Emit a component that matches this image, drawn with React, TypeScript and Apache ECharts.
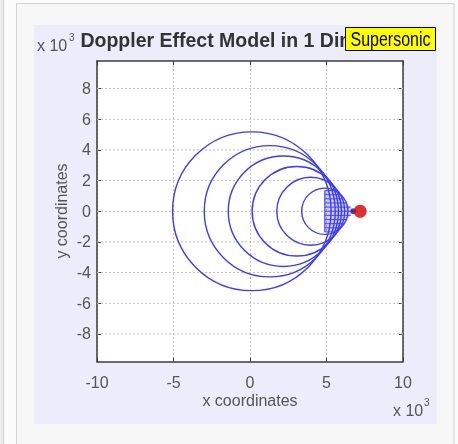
import React, { useEffect, useRef } from 'react';
import * as echarts from 'echarts';

// ---- data (x10^3 units) ----
const xTicks = [-10, -5, 0, 5, 10];
const yTicks = [-8, -6, -4, -2, 0, 2, 4, 6, 8];
const xRange = [-10, 10];
const yRange = [-9.8, 9.8];

// wavefront circles: centre x, centre y, radius
const waveX = [0.12, 1.29, 2.18, 3.06, 3.97, 4.89];
const waveY = [0, 0, 0, 0, 0, 0];
const waveR = [5.18, 4.28, 3.6, 2.92, 2.22, 1.51];

// dense hatch of wavefronts near the source
const hatchY = [1.35, 1.08, 0.81, 0.54, 0.27, 0, -0.27, -0.54, -0.81, -1.08, -1.35];
const hatchXEnd = [5.57, 5.95, 6.13, 6.35, 6.58, 6.8, 6.58, 6.35, 6.13, 5.95, 5.57];
const hatchXStart = 4.89;

const sourcePos = [7.2, 0];
const frontPos = [6.75, 0];

const FONT = 'Liberation Sans, Arial, sans-serif';
const GRAY = '#555';
const AXIS = '#3c3c3c';
const GRID = '#bdbdbd';

export default function App() {
  const ref = useRef<HTMLDivElement>(null);
  useEffect(() => {
    const chart = echarts.init(ref.current!, null, { renderer: 'svg', width: 458, height: 444 });

    const circleData = waveX.map((x, i) => [x, waveY[i], waveR[i]]);
    const hatchData = hatchY.map((y, i) => [hatchXStart, y, hatchXEnd[i]]);
    const yGridData = yTicks.map((v) => [xRange[0], v]);

    const option: any = {
      animation: false,
      grid: {
        left: 97,
        top: 61,
        width: 306,
        height: 300.5,
        show: true,
        backgroundColor: '#ffffff',
        borderWidth: 0,
      },
      xAxis: [
        {
          type: 'value',
          position: 'bottom',
          min: xRange[0],
          max: xRange[1],
          interval: 5,
          axisLine: { show: true, onZero: false, lineStyle: { color: AXIS, width: 1.5 } },
          axisTick: { show: true, inside: true, length: 4, lineStyle: { color: AXIS } },
          axisLabel: {
            show: true,
            margin: 13,
            fontSize: 16,
            color: GRAY,
            fontFamily: FONT,
            formatter: (v: number) => (xTicks.includes(v) ? String(v) : ''),
          },
          splitLine: { show: true, lineStyle: { color: GRID, type: [2, 2], width: 1 } },
        },
        {
          type: 'value',
          position: 'top',
          min: xRange[0],
          max: xRange[1],
          interval: 5,
          axisLine: { show: true, onZero: false, lineStyle: { color: AXIS, width: 1.5 } },
          axisTick: { show: true, inside: true, length: 4, lineStyle: { color: AXIS } },
          axisLabel: { show: false },
          splitLine: { show: false },
        },
      ],
      yAxis: [
        {
          type: 'value',
          position: 'left',
          min: yRange[0],
          max: yRange[1],
          axisLine: { show: true, onZero: false, lineStyle: { color: AXIS, width: 1.5 } },
          axisTick: { show: true, inside: true, length: 4, customValues: yTicks, lineStyle: { color: AXIS } },
          axisLabel: { show: true, margin: 6, fontSize: 16, color: GRAY, fontFamily: FONT, customValues: yTicks },
          splitLine: { show: false },
        },
        {
          type: 'value',
          position: 'right',
          min: yRange[0],
          max: yRange[1],
          axisLine: { show: true, onZero: false, lineStyle: { color: AXIS, width: 1.5 } },
          axisTick: { show: true, inside: true, length: 4, customValues: yTicks, lineStyle: { color: AXIS } },
          axisLabel: { show: false, customValues: yTicks },
          splitLine: { show: false },
        },
      ],
      series: [
        {
          type: 'custom',
          name: 'ygrid',
          z: 1,
          silent: true,
          data: yGridData,
          encode: { x: 0, y: 1 },
          renderItem: (params: any, api: any) => {
            const v = api.value(1);
            const p1 = api.coord([xRange[0], v]);
            const p2 = api.coord([xRange[1], v]);
            return {
              type: 'line',
              shape: { x1: p1[0], y1: p1[1], x2: p2[0], y2: p2[1] },
              style: { stroke: GRID, lineWidth: 1, lineDash: [2, 2] },
            };
          },
        },
        {
          type: 'custom',
          name: 'hatch',
          z: 2,
          silent: true,
          data: hatchData,
          encode: { x: 0, y: 1 },
          renderItem: (params: any, api: any) => {
            const p1 = api.coord([api.value(0), api.value(1)]);
            const p2 = api.coord([api.value(2), api.value(1)]);
            return {
              type: 'line',
              shape: { x1: p1[0], y1: p1[1], x2: p2[0], y2: p2[1] },
              style: { stroke: '#5050f0', lineWidth: 1.1 },
            };
          },
        },
        {
          type: 'custom',
          name: 'hatchfill',
          z: 2,
          silent: true,
          data: [[hatchXStart, 0]],
          encode: { x: 0, y: 1 },
          renderItem: (params: any, api: any) => {
            const pts: number[][] = [];
            pts.push(api.coord([hatchXStart, hatchY[0]]));
            hatchY.forEach((y, i) => pts.push(api.coord([hatchXEnd[i], y])));
            pts.push(api.coord([hatchXStart, hatchY[hatchY.length - 1]]));
            return {
              type: 'group',
              children: [
                { type: 'polygon', shape: { points: pts }, style: { fill: 'rgba(80,80,240,0.28)', stroke: 'none' } },
                {
                  type: 'line',
                  shape: { x1: pts[0][0], y1: pts[0][1], x2: pts[pts.length - 1][0], y2: pts[pts.length - 1][1] },
                  style: { stroke: '#4848f0', lineWidth: 1.2 },
                },
              ],
            };
          },
        },
        {
          type: 'custom',
          name: 'waves',
          z: 3,
          silent: true,
          data: circleData,
          encode: { x: 0, y: 1 },
          renderItem: (params: any, api: any) => {
            const c = api.coord([api.value(0), api.value(1)]);
            const s = api.size([api.value(2), api.value(2)]);
            return {
              type: 'ellipse',
              shape: { cx: c[0], cy: c[1], rx: s[0], ry: s[1] },
              style: { fill: 'none', stroke: '#3c3cf2', lineWidth: 1.4 },
            };
          },
        },
        {
          type: 'scatter',
          name: 'front',
          z: 4,
          data: [frontPos],
          symbolSize: 6,
          itemStyle: { color: '#1e1e9e' },
        },
        {
          type: 'scatter',
          name: 'source',
          z: 5,
          data: [sourcePos],
          symbolSize: 13,
          itemStyle: { color: '#d20000' },
        },
      ],
      graphic: [
        { type: 'rect', z: -100, shape: { x: 0, y: 0, width: 458, height: 444 }, style: { fill: '#fbfbfb' } },
        { type: 'rect', z: -99, shape: { x: 0, y: 0, width: 3, height: 444 }, style: { fill: '#ececec' } },
        { type: 'line', z: -99, shape: { x1: 3.5, y1: 0, x2: 3.5, y2: 444 }, style: { stroke: '#cfcfcf', lineWidth: 1 } },
        {
          type: 'rect',
          z: -98,
          shape: { x: 16.5, y: 3.5, width: 437.5, height: 460 },
          style: { fill: '#f7f7f7', stroke: '#d2d2d2', lineWidth: 1 },
        },
        { type: 'rect', z: -97, shape: { x: 34, y: 25, width: 403, height: 399 }, style: { fill: '#ececfa' } },
        {
          type: 'text',
          z: 50,
          x: 250,
          y: 40,
          style: {
            text: 'Doppler Effect Model in 1 Dimension',
            fontSize: 19.5,
            fontWeight: 'bold',
            fontFamily: FONT,
            fill: '#333',
            align: 'center',
            verticalAlign: 'middle',
          },
        },
        {
          type: 'rect',
          z: 60,
          shape: { x: 345.5, y: 27.5, width: 90, height: 23 },
          style: { fill: '#ffff00', stroke: '#000', lineWidth: 1 },
        },
        {
          type: 'text',
          z: 61,
          x: 390.5,
          y: 39.5,
          scaleX: 0.8,
          style: {
            text: 'Supersonic',
            fontSize: 20,
            fontFamily: FONT,
            fill: '#000',
            align: 'center',
            verticalAlign: 'middle',
          },
        },
        {
          type: 'text',
          z: 50,
          x: 37,
          y: 45,
          style: { text: 'x 10', fontSize: 16, fontFamily: FONT, fill: GRAY, align: 'left', verticalAlign: 'middle' },
        },
        {
          type: 'text',
          z: 50,
          x: 69,
          y: 37,
          style: { text: '3', fontSize: 10, fontFamily: FONT, fill: GRAY, align: 'left', verticalAlign: 'middle' },
        },
        {
          type: 'text',
          z: 50,
          x: 393,
          y: 410,
          style: { text: 'x 10', fontSize: 16, fontFamily: FONT, fill: GRAY, align: 'left', verticalAlign: 'middle' },
        },
        {
          type: 'text',
          z: 50,
          x: 424,
          y: 402,
          style: { text: '3', fontSize: 10, fontFamily: FONT, fill: GRAY, align: 'left', verticalAlign: 'middle' },
        },
        {
          type: 'text',
          z: 50,
          x: 250,
          y: 400,
          style: { text: 'x coordinates', fontSize: 16, fontFamily: FONT, fill: GRAY, align: 'center', verticalAlign: 'middle' },
        },
        {
          type: 'text',
          z: 50,
          x: 61,
          y: 211,
          rotation: Math.PI / 2,
          style: { text: 'y coordinates', fontSize: 16, fontFamily: FONT, fill: GRAY, align: 'center', verticalAlign: 'middle' },
        },
      ],
    };

    chart.setOption(option);
    return () => chart.dispose();
  }, []);

  return <div ref={ref} style={{ position: 'fixed', left: 0, top: 0, width: 458, height: 444 }} />;
}
